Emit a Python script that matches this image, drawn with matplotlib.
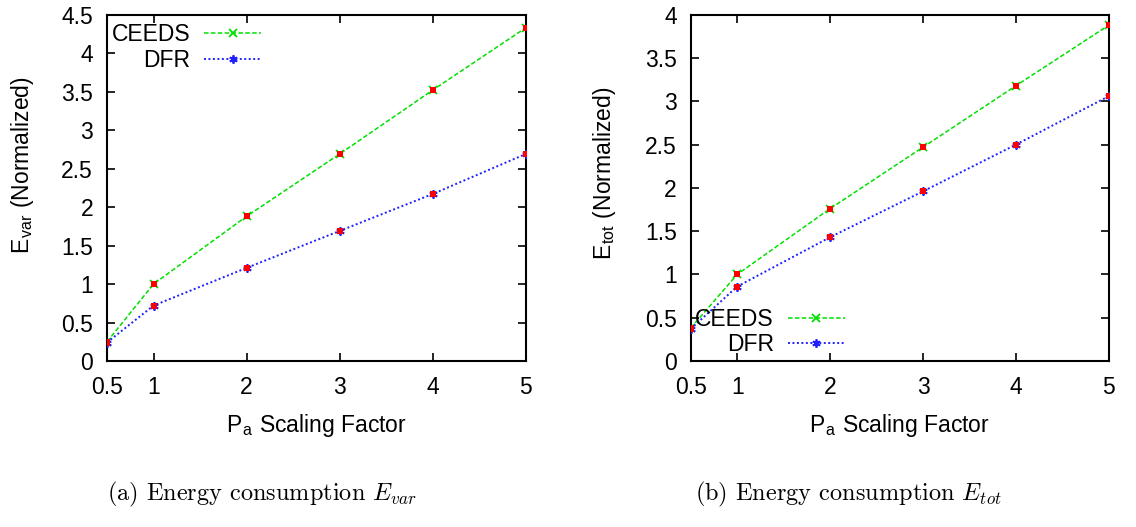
import numpy as np
import matplotlib
matplotlib.use("Agg")
import matplotlib.pyplot as plt

plt.rcParams["font.family"] = ["Liberation Sans", "DejaVu Sans"]
plt.rcParams["mathtext.fontset"] = "cm"

# scaling factors of P_a
scale = [0.5, 1, 2, 3, 4, 5]

# normalized energy, variable part
ceeds_var = [0.25, 1.00, 1.88, 2.69, 3.52, 4.33]
dfr_var = [0.24, 0.72, 1.21, 1.69, 2.17, 2.69]

# normalized energy, total
ceeds_tot = [0.38, 1.00, 1.76, 2.47, 3.18, 3.88]
dfr_tot = [0.37, 0.86, 1.43, 1.96, 2.50, 3.06]

xticks = [0.5, 1, 2, 3, 4, 5]

GREEN = "#00e000"
BLUE = "#2020ff"
RED = "#ff0000"
FS = 16.5

fig = plt.figure(figsize=(11.36, 5.27), dpi=100)
ax1 = fig.add_axes([0.0942, 0.315, 0.3686, 0.6571])
ax2 = fig.add_axes([0.608, 0.315, 0.3682, 0.6571])


def draw(ax, ceeds, dfr, ymax, ylab, legend_loc, anchor):
    ax.plot(scale, ceeds, color=GREEN, ls=(0, (3, 1.5)), lw=1.1,
            marker="x", ms=6, mew=1.3, label="CEEDS", zorder=3)
    ax.plot(scale, dfr, color=BLUE, ls=(0, (1, 1.3)), lw=1.4,
            marker=(6, 2, 0), ms=6, mew=1.3, label="DFR", zorder=3)
    # red squares drawn over both series
    ax.plot(scale, ceeds, ls="none", marker="s", ms=5, color=RED, mew=0, zorder=4)
    ax.plot(scale, dfr, ls="none", marker="s", ms=5, color=RED, mew=0, zorder=4)

    ax.set_xlim(0.5, 5)
    ax.set_ylim(0, ymax)
    ax.set_xticks(xticks)
    ax.set_xticklabels(["0.5", "1", "2", "3", "4", "5"])
    yt = np.arange(0, ymax + 0.01, 0.5)
    ax.set_yticks(yt)
    ax.set_yticklabels(["%g" % v for v in yt])
    ax.tick_params(direction="in", length=6, width=1.2, top=True, right=True,
                   labelsize=FS)
    ax.tick_params(axis="y", pad=10)
    ax.tick_params(axis="x", pad=11)
    for s in ax.spines.values():
        s.set_linewidth(1.5)

    ax.set_xlabel(r"P$_\mathregular{a}$ Scaling Factor", fontsize=FS)
    ax.xaxis.set_label_coords(0.5, -0.185)
    ax.xaxis.label.set_va("center")
    ax.set_ylabel(ylab, fontsize=FS)
    ax.yaxis.label.set_va("center")

    ax.legend(loc=legend_loc, bbox_to_anchor=anchor, frameon=False,
              markerfirst=False, fontsize=FS, handlelength=2.5,
              handletextpad=0.6, labelspacing=0.1, borderaxespad=0.0,
              borderpad=0.2)


draw(ax1, ceeds_var, dfr_var, 4.5, r"E$_\mathregular{var}$ (Normalized)",
     "upper left", (0.0, 0.988))
ax1.yaxis.set_label_coords(-0.203, 0.566)

draw(ax2, ceeds_tot, dfr_tot, 4.0, r"E$_\mathregular{tot}$ (Normalized)",
     "lower left", (0.0, 0.0))
ax2.yaxis.set_label_coords(-0.207, 0.541)

fig.text(107 / 1136, 0.051, r"(a) Energy consumption $E_{var}$",
         fontfamily="cmr10", fontsize=17.5, ha="left", va="baseline")
fig.text(695 / 1136, 0.051, r"(b) Energy consumption $E_{tot}$",
         fontfamily="cmr10", fontsize=17.5, ha="left", va="baseline")

fig.savefig("out.png", dpi=100)
